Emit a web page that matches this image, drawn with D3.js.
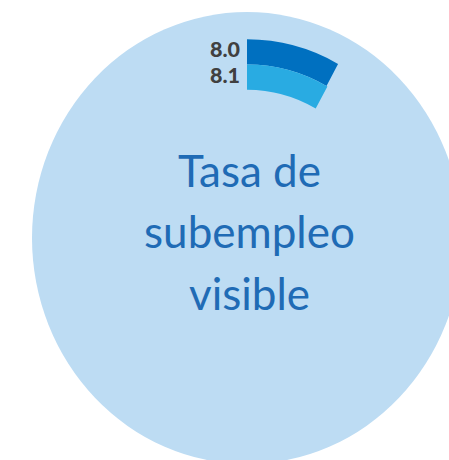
<!DOCTYPE html>
<html>
<head>
<meta charset="utf-8">
<script src="https://cdn.jsdelivr.net/npm/d3@7"></script>
<style>
  html, body { margin: 0; padding: 0; background: #fff; }
  svg { display: block; }
  .title { font-family: Lato, "Open Sans", sans-serif; font-size: 44px; fill: #1F6BB5; }
  .valueLabel { font-family: Lato, "Open Sans", sans-serif; font-size: 21.5px; font-weight: 900; fill: #404040; }
</style>
</head>
<body>
<svg width="449" height="460"></svg>
<script>
'use strict';

// series shown as radial bars (percent of a full turn)
const series = ["serie 1", "serie 2"];
const values = [8.0, 8.1];
const colors = ["#0070C0", "#29ABE2"];
const titleLines = ["Tasa de", "subempleo", "visible"];

const width = 449, height = 460;
const cx = 247, cy = 238;
const rBack = 215;
const stretch = 1.051; // the picture is a bit taller than wide

const svg = d3.select('svg');

const angle = d3.scaleLinear().domain([0, 100]).range([0, 2 * Math.PI]);
const ring = d3.scaleBand().domain(d3.range(series.length)).range([189, 141]);

const g = svg.append('g')
  .attr('transform', `translate(${cx},${cy}) scale(1,${stretch})`);

// background disc
g.append('path')
  .attr('d', d3.arc()({innerRadius: 0, outerRadius: rBack, startAngle: 0, endAngle: 2 * Math.PI}))
  .attr('fill', '#BDDCF3');

const arc = d3.arc()
  .innerRadius((d, i) => ring(i))
  .outerRadius((d, i) => ring(i) + ring.bandwidth())
  .startAngle(0)
  .endAngle(d => angle(d));

g.selectAll('path.bar')
  .data(values).enter().append('path')
  .classed('bar', true)
  .attr('d', (d, i) => arc(d, i))
  .attr('fill', (d, i) => colors[i]);

// value labels, left of where the bars start
svg.selectAll('text.valueLabel')
  .data(values).enter().append('text')
  .classed('valueLabel', true)
  .attr('x', cx - 7)
  .attr('y', (d, i) => cy - (ring(i) + ring.bandwidth() / 2) * stretch + 5.5)
  .attr('text-anchor', 'end')
  .text(d => d3.format('.1f')(d));

// centre title
svg.selectAll('text.title')
  .data(titleLines).enter().append('text')
  .classed('title', true)
  .attr('x', 249.5)
  .attr('y', (d, i) => 248 + (i - 1) * 61.5)
  .attr('text-anchor', 'middle')
  .text(d => d);
</script>
</body>
</html>
